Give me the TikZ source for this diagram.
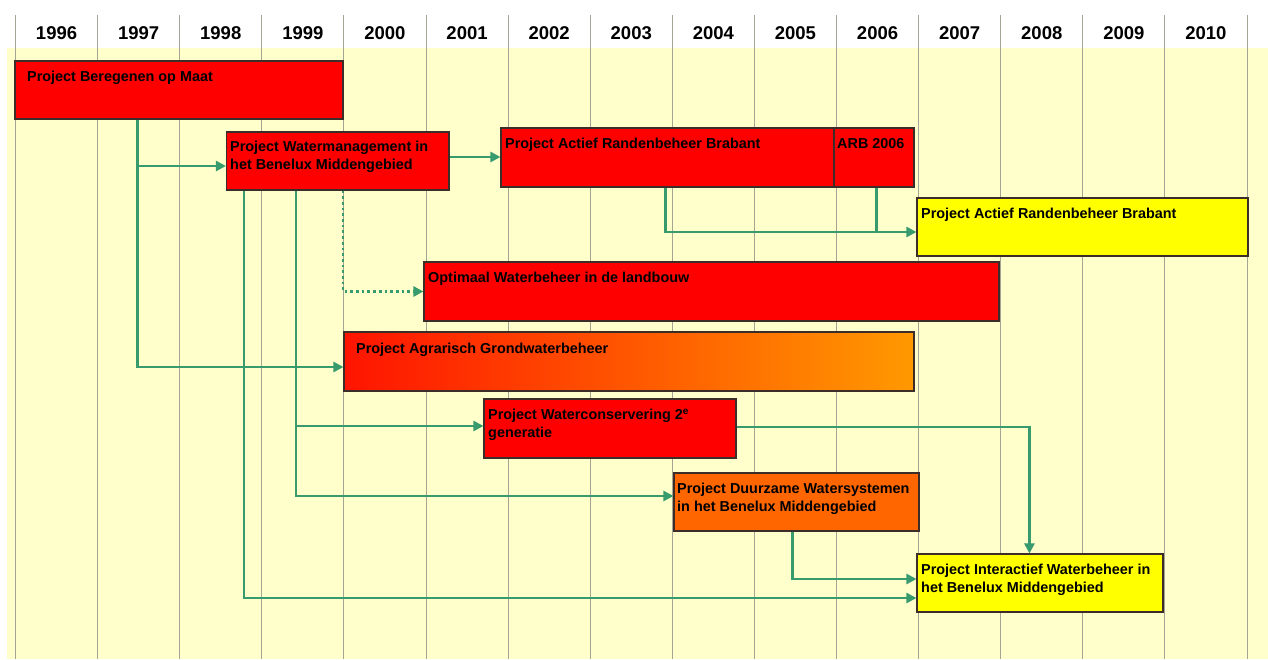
\documentclass[tikz,border=0pt]{standalone}
\usepackage{fontspec}
\setmainfont{Liberation Sans}
\usetikzlibrary{arrows.meta,fit,calc}
\definecolor{bgyellow}{RGB}{255,255,204}
\definecolor{conngreen}{RGB}{55,155,110}
\definecolor{gridgray}{RGB}{165,165,150}
\definecolor{boxedge}{RGB}{60,45,40}
\definecolor{boxred}{RGB}{255,0,0}
\definecolor{boxyellow}{RGB}{255,255,0}
\definecolor{duurz}{RGB}{255,102,0}
\definecolor{agrright}{RGB}{255,153,0}
\definecolor{agrleft}{RGB}{255,20,0}
\begin{document}
\begin{tikzpicture}[x=1pt,y=-1pt,
  gridline/.style={draw=gridgray,line width=0.9pt},
  year/.style={font=\bfseries\fontsize{18.5}{22}\selectfont,inner sep=0pt},
  box/.style={draw=boxedge,line width=1.1pt,inner sep=0pt},
  lbl/.style={anchor=north west,inner sep=0pt,align=left,font=\bfseries\fontsize{14.4}{17.5}\selectfont},
  conn/.style={draw=conngreen,line width=2.8pt,-{Triangle[length=10pt,width=10pt]}},
  connline/.style={draw=conngreen,line width=2.8pt},
  conndot/.style={draw=conngreen,line width=2.7pt,dash pattern=on 2.7pt off 3pt,-{Triangle[length=10pt,width=10pt]}}
]
\useasboundingbox (0,0) rectangle (1268,659);
\fill[bgyellow] (7,48) rectangle (1268,659);
\foreach \k in {0,...,15} \draw[gridline] (15.5+82.1*\k,15) -- (15.5+82.1*\k,659);
\foreach \yr [count=\k from 0] in {1996,...,2010}
  \node[year] (yr\k) at (15.5+82.1*\k+41.05,33) {\yr};

% boxes
\node[box,fill=boxred,fit={(15,61) (343,119)}] (b1) {};
\node[box,fill=boxred,fit={(226.5,132) (449,190)}] (b2) {};
\node[box,fill=boxred,fit={(501,128) (834,187)}] (b3) {};
\node[box,fill=boxred,fit={(834,128) (914,187)}] (b4) {};
\node[box,fill=boxyellow,fit={(917,198) (1248,256)}] (b5) {};
\node[box,fill=boxred,fit={(424,262) (999,321)}] (b6) {};
\node[box,left color=agrleft,right color=agrright,fit={(344,332) (914,391)}] (b7) {};
\node[box,fill=boxred,fit={(484,399) (736,458)}] (b8) {};
\node[box,fill=duurz,fit={(674,473) (919,531)}] (b9) {};
\node[box,fill=boxyellow,fit={(917,554) (1163,612)}] (b10) {};

% labels
\node[lbl] (t1) at (27,71) {Project Beregenen op Maat};
\node[lbl] (t2) at (230,141) {Project Watermanagement in\\het Benelux Middengebied};
\node[lbl] (t3) at (505,138) {Project Actief Randenbeheer Brabant};
\node[lbl] (t4) at (837,138) {ARB 2006};
\node[lbl] (t5) at (921,208) {Project Actief Randenbeheer Brabant};
\node[lbl] (t6) at (428,272) {Optimaal Waterbeheer in de landbouw};
\node[lbl] (t7) at (356,343) {Project Agrarisch Grondwaterbeheer};
\node[lbl] (t8) at (488,409) {Project Waterconservering 2\textsuperscript{e}\\generatie};
\node[lbl] (t9) at (677,483) {Project Duurzame Watersystemen\\in het Benelux Middengebied};
\node[lbl] (t10) at (921,564) {Project Interactief Waterbeheer in\\het Benelux Middengebied};

% connector coordinates
\coordinate (a0) at ([xshift=123pt]b1.south west);
\coordinate (w2) at ([yshift=-5pt]b2.west);
\coordinate (w7) at ([yshift=-5.5pt]b7.west);
\coordinate (e2) at ([yshift=4pt]b2.east);
\coordinate (c0) at ([xshift=18pt]b2.south west);
\coordinate (d0) at ([xshift=70pt]b2.south west);
\coordinate (e0) at ([xshift=117pt]b2.south west);
\coordinate (w10a) at ([yshift=-15pt]b10.west);
\coordinate (w9) at ([yshift=6pt]b9.west);
\coordinate (w8) at ([yshift=2.5pt]b8.west);
\coordinate (f0) at ([xshift=165pt]b3.south west);
\coordinate (g0) at ([xshift=43pt]b4.south west);
\coordinate (w5) at ([yshift=-5pt]b5.west);
\coordinate (h0) at ([yshift=1.5pt]b8.east);
\coordinate (n10) at ([xshift=113pt]b10.north west);
\coordinate (i0) at ([xshift=119pt]b9.south west);
\coordinate (w10b) at ([yshift=4pt]b10.west);

% connectors
\draw[conn] (a0) |- (w7);
\draw[conn] (a0 |- w2) -- (w2);
\draw[conn] (e2) -- (e2 -| b3.west);
\draw[conn] (c0) |- (w10a);
\draw[conn] (d0) |- (w9);
\draw[conn] (d0 |- w8) -- (w8);
\draw[conndot] (e0) |- (b6.west);
\draw[conn] (f0) |- (w5);
\draw[connline] (g0) -- (g0 |- w5);
\draw[conn] (h0) -| (n10);
\draw[conn] (i0) |- (w10b);
\end{tikzpicture}
\end{document}
